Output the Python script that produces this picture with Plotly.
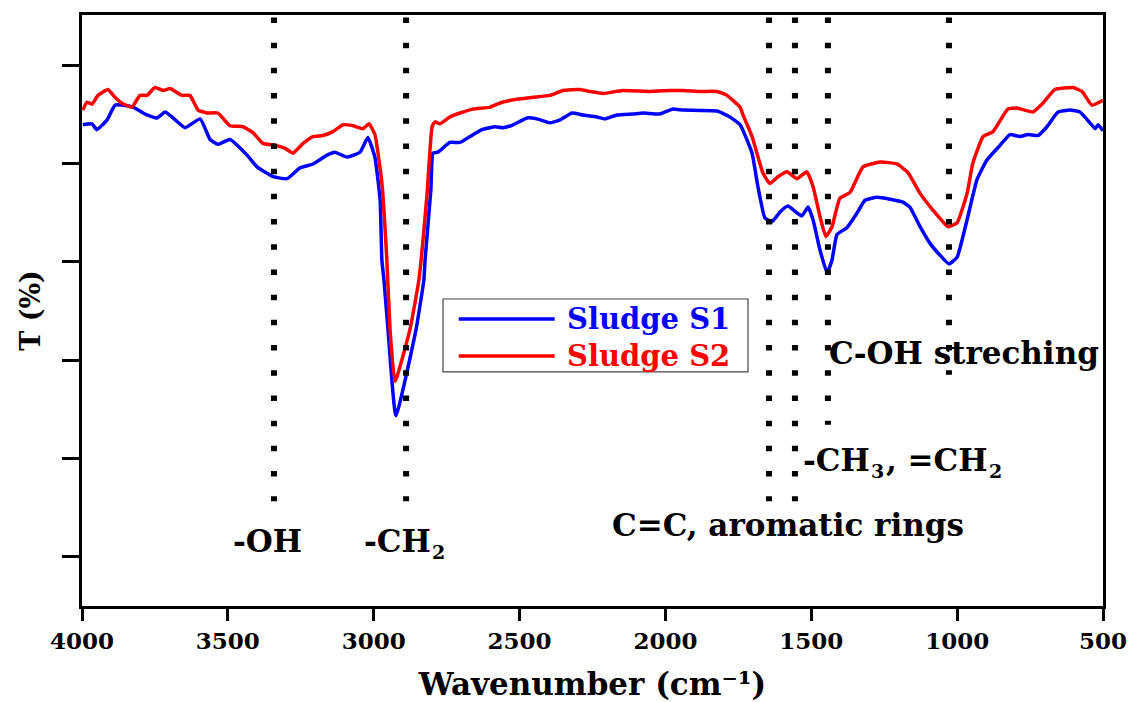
import plotly.graph_objects as go

# ---------------- data ----------------
s1_wn = [3997, 3966, 3949, 3914, 3887, 3859, 3825, 3777, 3743, 3715, 3688, 3647, 3595, 3561,
         3534, 3493, 3434, 3400, 3345, 3297, 3253, 3208, 3160, 3133, 3092, 3047, 3020, 2996,
         2978, 2972, 2965, 2951, 2924, 2855, 2828, 2824, 2804, 2797, 2780, 2739, 2704, 2670,
         2629, 2584, 2557, 2522, 2474, 2440, 2396, 2361, 2320, 2283, 2235, 2207, 2166, 2111,
         2077, 2019, 1974, 1940, 1823, 1779, 1744, 1703, 1683, 1659, 1635, 1607, 1580, 1549,
         1532, 1511, 1494, 1470, 1446, 1429, 1412, 1378, 1343, 1316, 1275, 1230, 1186, 1162,
         1127, 1093, 1059, 1028, 1000, 966, 932, 898, 853, 819, 785, 757, 723, 692, 654, 613,
         579, 545, 527, 517, 500]
s1_t = [54.0, 54.1, 53.5, 54.5, 56.0, 56.0, 55.8, 55.0, 54.7, 55.3, 54.7, 53.7, 54.6, 52.5,
        52.0, 52.5, 50.9, 49.7, 48.7, 48.5, 49.6, 50.0, 50.9, 51.2, 50.7, 51.2, 52.7, 50.7,
        46.3, 40.2, 38.2, 33.1, 24.3, 33.1, 38.2, 40.2, 47.4, 51.1, 51.2, 52.2, 52.2, 52.8,
        53.5, 53.8, 53.7, 54.0, 54.7, 54.6, 54.2, 54.5, 55.2, 55.0, 54.8, 54.6, 55.0, 55.1,
        55.2, 55.1, 55.6, 55.5, 55.4, 54.8, 54.0, 51.1, 47.7, 44.5, 44.1, 45.1, 45.7, 45.0,
        44.7, 45.6, 44.3, 41.2, 38.9, 40.2, 42.8, 43.5, 45.0, 46.3, 46.6, 46.4, 46.1, 45.6,
        43.6, 41.9, 40.7, 39.8, 40.5, 44.3, 48.4, 50.4, 51.9, 53.0, 52.8, 53.0, 52.9, 53.8,
        55.3, 55.5, 55.3, 54.2, 53.6, 54.0, 53.4]

s2_wn = [3997, 3983, 3966, 3945, 3911, 3887, 3863, 3829, 3801, 3777, 3750, 3722, 3698, 3657,
         3630, 3602, 3572, 3534, 3493, 3448, 3414, 3380, 3338, 3304, 3277, 3242, 3208, 3174,
         3140, 3105, 3071, 3037, 3016, 2996, 2972, 2955, 2944, 2927, 2876, 2845, 2817, 2800,
         2790, 2773, 2739, 2704, 2660, 2601, 2560, 2509, 2454, 2396, 2351, 2293, 2259, 2214,
         2145, 2053, 1984, 1940, 1881, 1823, 1789, 1744, 1734, 1703, 1666, 1642, 1614, 1583,
         1549, 1515, 1494, 1470, 1450, 1429, 1402, 1367, 1323, 1264, 1206, 1168, 1127, 1083,
         1031, 1000, 966, 946, 911, 877, 826, 795, 740, 706, 665, 603, 572, 538, 500]
s2_t = [55.5, 56.3, 56.1, 57.0, 57.6, 56.8, 56.2, 55.8, 57.0, 57.0, 57.8, 57.5, 57.7, 57.0,
        57.0, 55.5, 55.2, 55.2, 53.9, 53.8, 53.2, 52.1, 51.9, 51.6, 51.1, 52.1, 52.8, 52.9,
        53.3, 54.0, 53.9, 53.6, 54.1, 53.0, 48.1, 40.2, 33.1, 27.8, 33.1, 38.2, 47.0, 53.8,
        54.3, 54.1, 54.8, 55.2, 55.6, 55.8, 56.3, 56.6, 56.8, 57.0, 57.5, 57.6, 57.4, 57.2,
        57.5, 57.4, 57.5, 57.5, 57.4, 57.4, 57.0, 55.8, 55.0, 52.8, 49.1, 48.0, 48.7, 49.2,
        48.5, 49.2, 47.7, 44.6, 42.6, 43.6, 46.5, 47.1, 49.7, 50.2, 50.0, 49.1, 47.0, 45.3,
        43.6, 44.0, 47.0, 50.1, 52.8, 53.3, 55.6, 55.7, 55.3, 56.2, 57.6, 57.8, 57.4, 56.0, 56.5]

series_names = ["Sludge S1", "Sludge S2"]
series_colors = ["#0000FF", "#FF0000"]

# band markers (wavenumber of dotted line, lower end of dotted line in T units)
band_wn = [3342, 2889, 1645, 1556, 1443, 1028]
band_bottom = [15.6, 15.6, 15.6, 15.6, 23.4, 28.5]
band_top = 64.95

# band labels: (text, x position [cm-1], y position [T], anchor, subscript?)
label_parts = [
    ("-OH",                 3363, 11.5, "center", False),
    ("-CH",                 2797, 11.5, "right",  False),
    ("2",                   2797, 11.5, "left",   True),
    ("C=C, aromatic rings", 1580, 13.2, "center", False),
    ("-CH",                 1292, 19.8, "right",  False),
    ("3",                   1292, 19.8, "left",   True),
    (", =CH",                887, 19.8, "right",  False),
    ("2",                    887, 19.8, "left",   True),
    ("C-OH streching",       978, 30.7, "center", False),
]

x_ticks = [4000, 3500, 3000, 2500, 2000, 1500, 1000, 500]
y_ticks = [10, 20, 30, 40, 50, 60]

FONT = "DejaVu Serif"

fig = go.Figure()
for wn, t, nm, col in zip([s1_wn, s2_wn], [s1_t, s2_t], series_names, series_colors):
    fig.add_trace(go.Scatter(x=wn, y=t, mode="lines", name=nm,
                             line=dict(color=col, width=3.5, shape="spline", smoothing=0.4),
                             showlegend=False))

shapes = []
for wn, yb in zip(band_wn, band_bottom):
    shapes.append(dict(type="line", xref="x", yref="y", x0=wn, x1=wn, y0=band_top, y1=yb,
                       line=dict(color="black", width=6, dash="5.5px,19.7px"), layer="above"))

# manual legend
shapes.append(dict(type="rect", xref="paper", yref="paper", x0=0.3536, x1=0.6523,
                   y0=0.396, y1=0.5195, line=dict(color="#444", width=1.2),
                   fillcolor="white", layer="above"))
shapes.append(dict(type="line", xref="paper", yref="paper", x0=0.369, x1=0.463,
                   y0=0.4856, y1=0.4856, line=dict(color=series_colors[0], width=3.5), layer="above"))
shapes.append(dict(type="line", xref="paper", yref="paper", x0=0.369, x1=0.463,
                   y0=0.423, y1=0.423, line=dict(color=series_colors[1], width=3.5), layer="above"))

annotations = []
for txt, wn, t, anc, is_sub in label_parts:
    annotations.append(dict(text=txt, x=wn, y=t, xref="x", yref="y",
                            showarrow=False,
                            font=dict(family=FONT, size=19 if is_sub else 31,
                                      color="black", weight="bold"),
                            xanchor=anc, yanchor="middle",
                            xshift=-3 if is_sub else 0, yshift=-11 if is_sub else 0))
for nm, col, yp in zip(series_names, series_colors, [0.4856, 0.423]):
    annotations.append(dict(text=nm, x=0.473, y=yp, xref="paper", yref="paper",
                            showarrow=False,
                            font=dict(family=FONT, size=29, color=col, weight="bold"),
                            xanchor="left", yanchor="middle"))

fig.update_layout(
    width=1130, height=702,
    margin=dict(l=82, r=27, t=15, b=96, autoexpand=False),
    paper_bgcolor="white", plot_bgcolor="white",
    shapes=shapes, annotations=annotations,
    font=dict(family=FONT, color="black", size=22),
)
fig.update_xaxes(range=[4000, 500], tickvals=x_ticks, ticktext=[str(v) for v in x_ticks],
                 automargin=False,
                 ticks="outside", ticklen=12, tickwidth=3, tickcolor="black",
                 showline=True, linecolor="black", linewidth=3, mirror=True,
                 showgrid=False, zeroline=False,
                 tickfont=dict(family=FONT, size=23, color="black", weight="bold"),
                 title=dict(text="Wavenumber (cm⁻¹)", standoff=27,
                            font=dict(family=FONT, size=31, color="black", weight="bold")))
fig.update_yaxes(range=[4.9, 65.2], tickvals=y_ticks, showticklabels=False,
                 automargin=False,
                 ticks="outside", ticklen=17, tickwidth=3, tickcolor="black",
                 showline=True, linecolor="black", linewidth=3, mirror=True,
                 showgrid=False, zeroline=False,
                 title=dict(text="T (%)", standoff=14,
                            font=dict(family=FONT, size=27, color="black", weight="bold")))

fig.write_html("out.html")
